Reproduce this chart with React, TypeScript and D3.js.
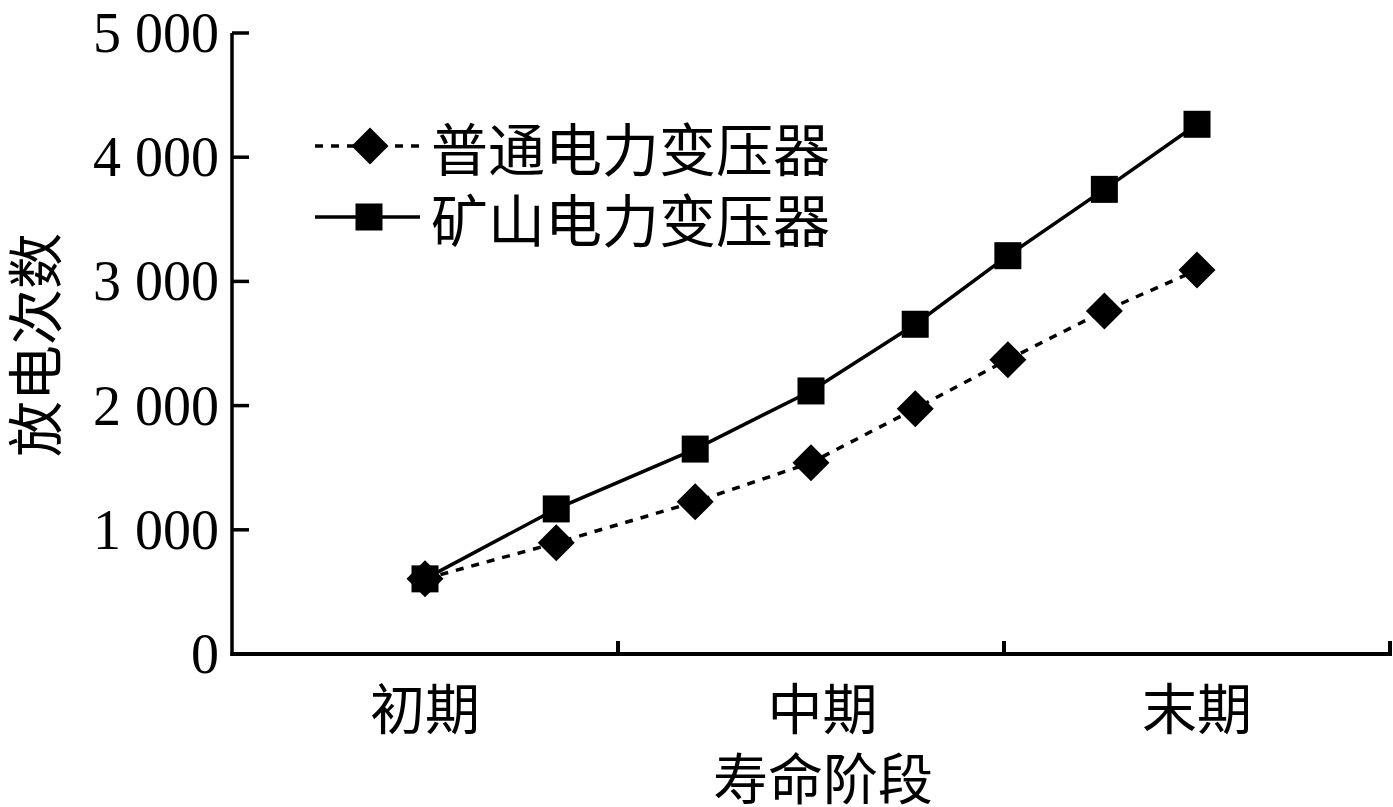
import React from "react";
import * as d3 from "d3";

const xPositions = [0.5, 0.84, 1.2, 1.5, 1.77, 2.01, 2.26, 2.5];
const ordinaryValues = [605, 895, 1225, 1540, 1975, 2370, 2762, 3092];
const miningValues = [605, 1168, 1650, 2118, 2655, 3207, 3741, 4265];
const seriesNames = ["普通电力变压器", "矿山电力变压器"];
const categoryLabels = ["初期", "中期", "末期"];
const categoryPositions = [0.5, 1.53, 2.5];
const xTicks = [1, 2, 3];
const yTicks = [0, 1000, 2000, 3000, 4000, 5000];
const xTitle = "寿命阶段";
const yTitle = "放电次数";

const W = 1393;
const H = 807;
const CJK = "'Noto Sans CJK SC', 'Noto Sans CJK JP', sans-serif";
const SERIF = "'Liberation Serif', 'Times New Roman', serif";

export default function App() {
  const x = d3.scaleLinear().domain([0, 3]).range([232, 1390]);
  const y = d3.scaleLinear().domain([0, 5000]).range([654, 33]);
  const fmt = (v: number) => (v === 0 ? "0" : d3.format(",")(v).replace(",", " "));

  const line = d3
    .line<[number, number]>()
    .x((d) => x(d[0]))
    .y((d) => y(d[1]));

  const ordPts: [number, number][] = xPositions.map((p, i) => [p, ordinaryValues[i]]);
  const minPts: [number, number][] = xPositions.map((p, i) => [p, miningValues[i]]);

  const diamond = (cx: number, cy: number, r: number) =>
    `M${cx},${cy - r}L${cx + r},${cy}L${cx},${cy + r}L${cx - r},${cy}Z`;
  const sq = 27;
  const dr = 18.5;

  return (
    <svg
      width={W}
      height={H}
      style={{ position: "absolute", left: 0, top: 0, background: "#fff" }}
    >
      <rect x={0} y={0} width={W} height={H} fill="#fff" />
      {/* axes */}
      <line x1={x(0)} x2={x(0)} y1={y(5000)} y2={y(0) + 2} stroke="#000" strokeWidth={3.5} />
      <line x1={x(0) - 1.5} x2={x(3) + 2} y1={y(0)} y2={y(0)} stroke="#000" strokeWidth={4} />
      {yTicks.map((t) => (
        <g key={t}>
          {t > 0 && (
            <line x1={x(0)} x2={x(0) + 17} y1={y(t)} y2={y(t)} stroke="#000" strokeWidth={3.5} />
          )}
          <text
            x={219}
            y={y(t) + 19}
            textAnchor="end"
            fontFamily={SERIF}
            fontSize={56}
            fill="#000"
          >
            {fmt(t)}
          </text>
        </g>
      ))}
      {xTicks.map((t) => (
        <line key={t} x1={x(t)} x2={x(t)} y1={y(0)} y2={y(0) - 13} stroke="#000" strokeWidth={4} />
      ))}
      {categoryLabels.map((c, i) => (
        <text
          key={c}
          x={x(categoryPositions[i])}
          y={705}
          textAnchor="middle"
          dominantBaseline="central"
          fontFamily={CJK}
          fontSize={55}
          fill="#000"
        >
          {c}
        </text>
      ))}
      <text
        x={823}
        y={775}
        textAnchor="middle"
        dominantBaseline="central"
        fontFamily={CJK}
        fontSize={55}
        fill="#000"
      >
        {xTitle}
      </text>
      <text
        transform="translate(31,345) rotate(-90)"
        textAnchor="middle"
        dominantBaseline="central"
        fontFamily={CJK}
        fontSize={56}
        fill="#000"
      >
        {yTitle}
      </text>

      {/* series lines */}
      <path d={line(minPts) || ""} fill="none" stroke="#000" strokeWidth={3.5} />
      <path
        d={line(ordPts) || ""}
        fill="none"
        stroke="#000"
        strokeWidth={3.5}
        strokeDasharray="8 8"
      />
      {minPts.map((d, i) => (
        <rect
          key={"s" + i}
          x={x(d[0]) - sq / 2}
          y={y(d[1]) - sq / 2}
          width={sq}
          height={sq}
          fill="#000"
        />
      ))}
      {ordPts.map((d, i) => (
        <path key={"d" + i} d={diamond(x(d[0]), y(d[1]), dr)} fill="#000" />
      ))}

      {/* legend */}
      <line x1={315} x2={420} y1={146} y2={146} stroke="#000" strokeWidth={3.5} strokeDasharray="8 8" />
      <path d={diamond(370, 146, dr)} fill="#000" />
      <text x={431} y={146} dominantBaseline="central" fontFamily={CJK} fontSize={57} fill="#000">
        {seriesNames[0]}
      </text>
      <line x1={315} x2={420} y1={217} y2={217} stroke="#000" strokeWidth={3.5} />
      <rect x={369 - sq / 2} y={217 - sq / 2} width={sq} height={sq} fill="#000" />
      <text x={431} y={217} dominantBaseline="central" fontFamily={CJK} fontSize={57} fill="#000">
        {seriesNames[1]}
      </text>
    </svg>
  );
}
